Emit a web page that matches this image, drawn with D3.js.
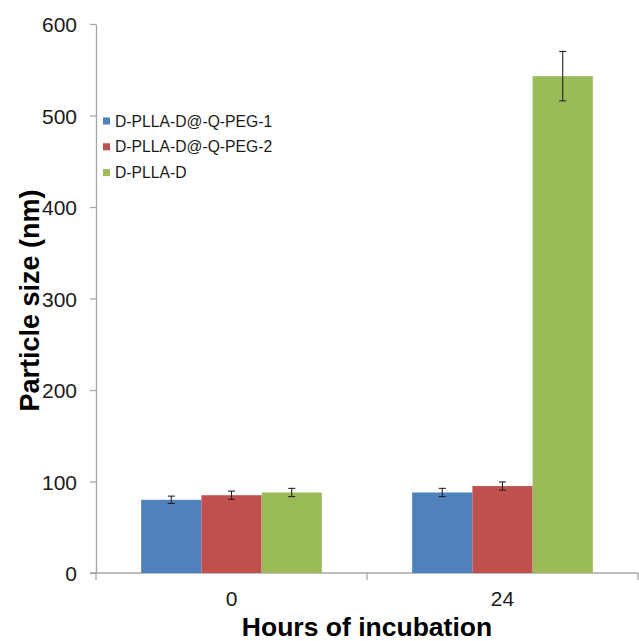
<!DOCTYPE html>
<html>
<head>
<meta charset="utf-8">
<script src="https://cdnjs.cloudflare.com/ajax/libs/d3/7.8.5/d3.min.js"></script>
<style>
    body { margin: 0; background: #fff; }
    svg { display: block; font-family: "Liberation Sans", Arial, sans-serif; }
    .axis path, .axis line { stroke: #a6a6a6; stroke-width: 1.3; }
    .axis text { fill: #1a1a1a; font-size: 21px; }
</style>
</head>
<body>
<div id="chart"></div>
<script>
// data
var hours = ["0", "24"];
var seriesNames = ["D-PLLA-D@-Q-PEG-1", "D-PLLA-D@-Q-PEG-2", "D-PLLA-D"];
var seriesColors = ["#4f81bd", "#c0504d", "#9bbb59"];
var peg1Values = [80, 88];
var peg2Values = [85, 95];
var plainValues = [88, 543];
var peg1Errors = [4, 4.5];
var peg2Errors = [4.5, 4.5];
var plainErrors = [4.5, 27];
var yTicks = [0, 100, 200, 300, 400, 500, 600];

var values = [peg1Values, peg2Values, plainValues];
var errors = [peg1Errors, peg2Errors, plainErrors];

var graphWidth = 639, graphHeight = 641;
var margin = {top: 24, right: 1, bottom: 68, left: 96};
var width = graphWidth - margin.left - margin.right;
var height = graphHeight - margin.top - margin.bottom;

var svg = d3.select("#chart")
    .append("svg")
    .attr("width", graphWidth)
    .attr("height", graphHeight);

var g = svg.append("g")
    .attr("transform", "translate(" + margin.left + "," + margin.top + ")");

var x = d3.scaleBand()
    .domain(hours)
    .range([0, width])
    .padding(0);

var inner = d3.scaleBand()
    .domain(seriesNames)
    .range([0, x.bandwidth()])
    .paddingInner(0)
    .paddingOuter(0.75);

var y = d3.scaleLinear()
    .domain([0, 600])
    .range([height, 0]);

// Y axis
var yAxis = g.append("g")
    .attr("class", "axis y-axis")
    .call(d3.axisLeft(y)
        .tickValues(yTicks)
        .tickSize(6)
        .tickSizeOuter(0)
        .tickPadding(13));
yAxis.selectAll("text").attr("dy", "0.36em");

// X axis: line + ticks at band edges, labels at band centres
var xAxis = g.append("g")
    .attr("class", "axis x-axis")
    .attr("transform", "translate(0," + height + ")");

xAxis.append("line")
    .attr("x1", -6)
    .attr("x2", width)
    .attr("y1", 0)
    .attr("y2", 0);

var edges = hours.map(function (h) { return x(h); }).concat([x.range()[1]]);
xAxis.selectAll(".edge-tick")
    .data(edges)
    .enter().append("line")
    .attr("class", "edge-tick")
    .attr("x1", function (d) { return d; })
    .attr("x2", function (d) { return d; })
    .attr("y1", 0)
    .attr("y2", 7);

xAxis.selectAll(".hour-label")
    .data(hours)
    .enter().append("text")
    .attr("class", "hour-label")
    .attr("x", function (d) { return x(d) + x.bandwidth() / 2; })
    .attr("y", 33)
    .attr("text-anchor", "middle")
    .text(function (d) { return d; });

// Bars
var groups = g.selectAll(".series")
    .data(seriesNames)
    .enter().append("g")
    .attr("class", "series");

groups.each(function (name, si) {
    var rows = hours.map(function (h, i) {
        return {hour: h, value: values[si][i], err: errors[si][i]};
    });
    var sg = d3.select(this);

    sg.selectAll("rect")
        .data(rows)
        .enter().append("rect")
        .attr("x", function (d) { return x(d.hour) + inner(name); })
        .attr("y", function (d) { return y(d.value); })
        .attr("width", inner.bandwidth())
        .attr("height", function (d) { return height - y(d.value); })
        .attr("fill", seriesColors[si]);

    // error bars
    var eb = sg.selectAll(".err")
        .data(rows)
        .enter().append("g")
        .attr("class", "err")
        .attr("transform", function (d) {
            return "translate(" + (x(d.hour) + inner(name) + inner.bandwidth() / 2) + ",0)";
        })
        .attr("stroke", "#222")
        .attr("stroke-width", 1.1);

    eb.append("line")
        .attr("y1", function (d) { return y(d.value + d.err); })
        .attr("y2", function (d) { return y(d.value - d.err); });
    eb.append("line")
        .attr("x1", -3.5).attr("x2", 3.5)
        .attr("y1", function (d) { return y(d.value + d.err); })
        .attr("y2", function (d) { return y(d.value + d.err); });
    eb.append("line")
        .attr("x1", -3.5).attr("x2", 3.5)
        .attr("y1", function (d) { return y(d.value - d.err); })
        .attr("y2", function (d) { return y(d.value - d.err); });
});

// Legend
var legend = svg.append("g")
    .attr("transform", "translate(103,121)");

var item = legend.selectAll(".legend-item")
    .data(seriesNames)
    .enter().append("g")
    .attr("class", "legend-item")
    .attr("transform", function (d, i) { return "translate(0," + (i * 25.8) + ")"; });

item.append("rect")
    .attr("x", 0)
    .attr("y", -3.5)
    .attr("width", 7)
    .attr("height", 7)
    .attr("fill", function (d, i) { return seriesColors[i]; });

item.append("text")
    .attr("x", 12)
    .attr("dy", "0.36em")
    .attr("font-size", "15.7px")
    .attr("fill", "#1a1a1a")
    .text(function (d) { return d; });

// Axis titles
svg.append("text")
    .attr("transform", "translate(39," + (margin.top + y(300) + 2) + ") rotate(-90)")
    .attr("text-anchor", "middle")
    .attr("font-size", "27px")
    .attr("font-weight", "bold")
    .attr("fill", "#000")
    .text("Particle size (nm)");

svg.append("text")
    .attr("x", margin.left + width / 2)
    .attr("y", 636)
    .attr("text-anchor", "middle")
    .attr("font-size", "26.5px")
    .attr("font-weight", "bold")
    .attr("fill", "#000")
    .text("Hours of incubation");
</script>
</body>
</html>
